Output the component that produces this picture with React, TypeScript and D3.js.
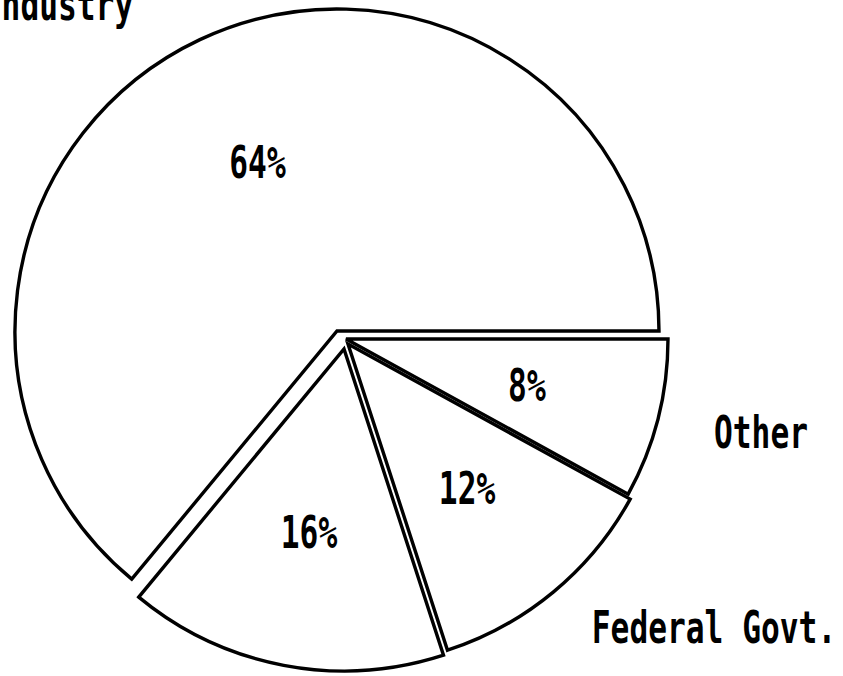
import React from "react";
import * as d3 from "d3";

// Data (clockwise from 3 o'clock)
const categories = ["Other", "Federal Govt.", "Universities", "Industry"];
const shares = [8, 12, 16, 64];
const percentLabels = ["8%", "12%", "16%", "64%"];
const categoryLabels = ["Other", "Federal Govt.", "", "Industry"];

const W = 843;
const H = 676;
const R = 322;
const BASE_X = 337;
const BASE_Y = 331;

// explode offsets per slice (layout)
const explode = [
  [9, 8],
  [11, 13],
  [7, 18],
  [0, 0],
];
// outer category label anchors (layout), relative to pie base center
const outerLabelPos: ([number, number] | null)[] = [
  [424, 117],
  [377, 312],
  null,
  [-279, -311],
];

const FONT = "'DejaVu Sans Mono', monospace";
const SX = 0.71;
const FS = 44;

export default function App() {
  const pie = d3
    .pie<number>()
    .sort(null)
    .value((d) => d)
    .startAngle(Math.PI / 2)
    .endAngle(Math.PI / 2 + 2 * Math.PI);
  const arcs = pie(shares);
  const arc = d3.arc<d3.PieArcDatum<number>>().innerRadius(0).outerRadius(R);
  const labelArc = d3
    .arc<d3.PieArcDatum<number>>()
    .innerRadius(R * 0.58)
    .outerRadius(R * 0.58);

  return (
    <div style={{ position: "absolute", left: 0, top: 0 }}>
      <svg width={W} height={H} style={{ display: "block", background: "#fff" }}>
        {arcs.map((a, i) => {
          const cx = BASE_X + explode[i][0];
          const cy = BASE_Y + explode[i][1];
          const [lx, ly] = labelArc.centroid(a);
          return (
            <g key={categories[i]} transform={`translate(${cx},${cy})`}>
              <path
                d={arc(a) || ""}
                fill="none"
                stroke="#000"
                strokeWidth={3.4}
                strokeLinejoin="miter"
              />
              <text
                transform={`translate(${lx},${ly + 16}) scale(${SX},1)`}
                textAnchor="middle"
                fontFamily={FONT}
                fontWeight="bold"
                fontSize={FS}
                fill="#000"
              >
                {percentLabels[i]}
              </text>
            </g>
          );
        })}
        {categoryLabels.map((t, i) => {
          const p = outerLabelPos[i];
          if (!t || !p) return null;
          return (
            <text
              key={"c" + i}
              transform={`translate(${BASE_X + p[0]},${BASE_Y + p[1]}) scale(${SX},1)`}
              textAnchor="middle"
              fontFamily={FONT}
              fontWeight="bold"
              fontSize={FS}
              fill="#000"
            >
              {t}
            </text>
          );
        })}
      </svg>
    </div>
  );
}
